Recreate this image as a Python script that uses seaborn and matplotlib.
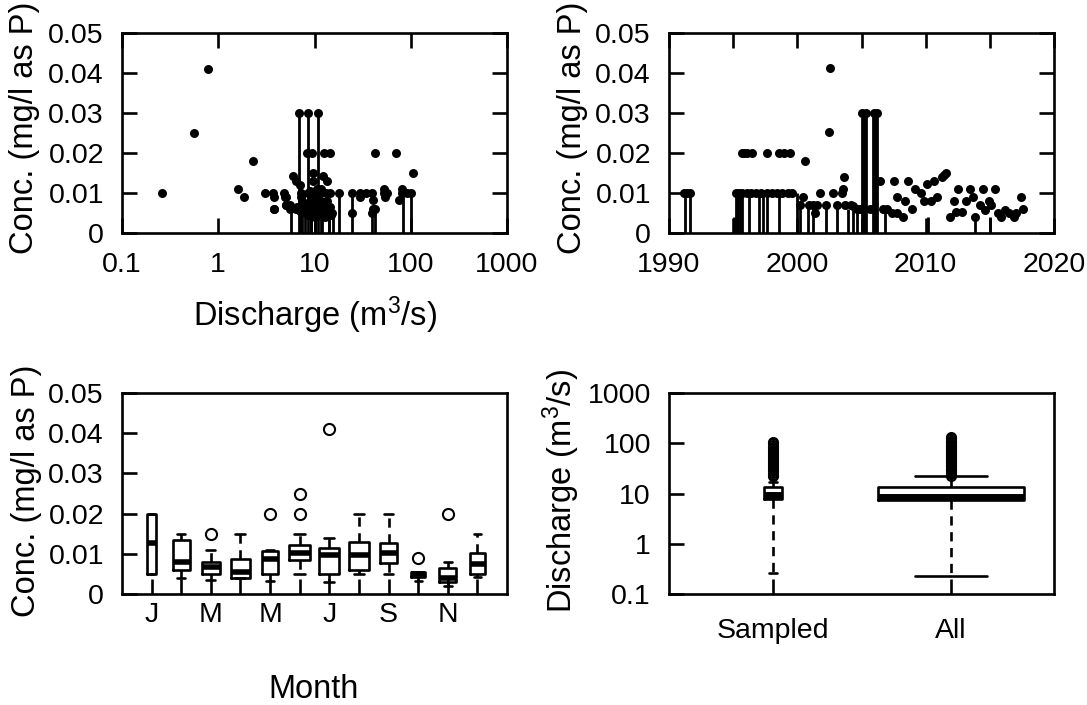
import numpy as np
import pandas as pd
import matplotlib
matplotlib.use("Agg")
import matplotlib.pyplot as plt
import seaborn as sns

# ---------------- concentration vs. discharge ----------------
q_dots = [0.26, 0.56, 0.79, 1.6, 1.83, 2.29, 3.07, 3.68, 3.78, 3.83, 4.87, 4.97, 5.05,
          5.6, 5.6, 6.05, 6.5, 7.1,
          6.97, 8.63, 10.9,
          8.35, 9.35, 12.6, 14.6, 42.4, 70.5,
          9.6, 106.6, 9.6, 12.4, 13.5,
          7.24, 8.49, 9.95, 11.5, 13.2, 14.6, 17.8, 24.3, 29.9, 34.2, 39.2, 52.9, 56.4, 82, 92.5, 100,
          52.9, 82, 5.0, 29.9, 54, 40.1, 75.7, 5.1, 3.8, 40.8, 43, 24.3, 39.2, 15.1,
          7.2, 7.5, 7.8, 8.0, 8.2, 8.5, 8.8, 9.0, 9.2, 9.4, 9.6, 9.8, 10.0, 10.2, 10.4, 10.6,
          10.8, 11.0, 11.3, 11.6, 12.0, 12.3, 12.7, 13.0, 13.5, 14.0, 14.5, 15.0, 7.0, 6.6,
          6.4, 11.8, 10.5, 9.0]
conc_q_dots = [0.010, 0.025, 0.041, 0.011, 0.009, 0.018, 0.010, 0.010, 0.009, 0.006, 0.010, 0.009, 0.007,
               0.007, 0.006, 0.0143, 0.0131, 0.012,
               0.030, 0.030, 0.030,
               0.020, 0.020, 0.020, 0.020, 0.020, 0.020,
               0.0151, 0.0151, 0.0131, 0.0143, 0.0131,
               0.010, 0.010, 0.010, 0.010, 0.010, 0.010, 0.010, 0.010, 0.010, 0.010, 0.010, 0.010, 0.010, 0.010, 0.010, 0.010,
               0.011, 0.011, 0.0091, 0.0091, 0.0091, 0.0083, 0.0083, 0.007, 0.006, 0.006, 0.006, 0.005, 0.005, 0.005,
               0.009, 0.008, 0.007, 0.006, 0.005, 0.0045, 0.007, 0.008, 0.006, 0.005, 0.009, 0.007, 0.004, 0.006, 0.008, 0.005,
               0.007, 0.0045, 0.006, 0.008, 0.005, 0.007, 0.006, 0.004, 0.008, 0.005, 0.0065, 0.0045, 0.0055, 0.0065,
               0.006, 0.011, 0.011, 0.0105]
# censored samples (below reporting limit): drawn from 0 up to the limit
q_cens = [5.7, 6.97, 7.3, 7.4, 8.0, 8.63, 9.2, 9.3, 10.0, 10.9, 11.8, 12.0, 14.2, 14.3, 15.4,
          17.8, 24.3, 40.0, 42.4, 83.5, 100]
conc_q_cens = [0.007, 0.030, 0.010, 0.010, 0.007, 0.030, 0.010, 0.006, 0.006, 0.030, 0.007, 0.006, 0.008, 0.004, 0.005,
               0.010, 0.010, 0.005, 0.005, 0.010, 0.010]

# ---------------- concentration vs. time ----------------
yr_dots = [1991.17, 1991.40, 1991.64,
           1995.20, 1995.45, 1995.70, 1996.10, 1996.40, 1996.80, 1997.20, 1997.60, 1998.00, 1998.40, 1998.80, 1999.25, 1999.60,
           1995.67, 1995.85, 1996.05, 1996.45, 1997.60, 1998.60, 1998.96, 1999.43,
           2000.20, 2000.45, 2000.60, 2000.90, 2001.25, 2001.40, 2001.55, 2001.75, 2002.25, 2002.50, 2002.55, 2002.75,
           2003.10, 2003.50, 2003.55, 2003.60, 2003.75, 2004.20, 2004.37, 2004.65, 2004.85, 2005.00,
           2005.05, 2005.35, 2005.95, 2006.20,
           2005.65, 2006.45, 2006.65, 2006.95, 2007.35, 2007.50, 2007.75, 2007.75, 2008.25, 2008.40, 2008.60, 2008.90,
           2009.20, 2009.60, 2009.90, 2010.10, 2010.40, 2010.65, 2010.85, 2011.30, 2011.45, 2011.60, 2011.90,
           2012.20, 2012.40, 2012.55, 2012.80, 2013.15, 2013.45, 2013.65, 2013.85, 2014.25, 2014.45, 2014.60,
           2014.95, 2015.10, 2015.40, 2015.60, 2015.85, 2016.20, 2016.50, 2016.85, 2017.00, 2017.40, 2017.60]
conc_yr_dots = [0.010, 0.010, 0.010,
                0.010, 0.010, 0.010, 0.010, 0.010, 0.010, 0.010, 0.010, 0.010, 0.010, 0.010, 0.010, 0.010,
                0.020, 0.020, 0.020, 0.020, 0.020, 0.020, 0.020, 0.020,
                0.007, 0.0091, 0.0181, 0.007, 0.007, 0.0051, 0.007, 0.0101, 0.007, 0.0252, 0.0412, 0.0101,
                0.007, 0.0101, 0.0109, 0.0141, 0.007, 0.007, 0.0068, 0.006, 0.006, 0.006,
                0.030, 0.030, 0.030, 0.030,
                0.006, 0.0131, 0.006, 0.006, 0.0051, 0.0131, 0.0091, 0.0051, 0.0039, 0.008, 0.0131, 0.006,
                0.0109, 0.0101, 0.008, 0.0123, 0.008, 0.0131, 0.0091, 0.0141, 0.0146, 0.0151, 0.0039,
                0.008, 0.0053, 0.011, 0.0053, 0.008, 0.011, 0.0091, 0.0039, 0.007, 0.0109, 0.0058,
                0.008, 0.007, 0.0109, 0.0051, 0.0039, 0.0058, 0.0051, 0.0039, 0.0051, 0.0091, 0.0059]
yr_cens = [1991.25, 1991.64, 1995.07, 1995.22, 1995.40, 1995.53, 1995.66, 1996.26, 1997.04, 1997.35, 1997.66,
           1998.60, 1999.95, 2000.20, 2000.86, 2001.25, 2002.20, 2003.10, 2003.98, 2004.37, 2004.63,
           2005.00, 2005.20, 2005.35, 2005.90, 2006.05, 2006.20, 2006.85, 2010.20, 2013.85, 2015.00]
conc_yr_cens = [0.010, 0.010, 0.004, 0.010, 0.010, 0.010, 0.010, 0.010, 0.010, 0.010, 0.010,
                0.010, 0.010, 0.007, 0.007, 0.007, 0.007, 0.007, 0.006, 0.006, 0.006,
                0.030, 0.030, 0.030, 0.030, 0.030, 0.030, 0.006, 0.004, 0.004, 0.004]

# ---------------- monthly box plots of concentration ----------------
months = list(range(1, 13))
month_labels = ["J", "", "M", "", "M", "", "J", "", "S", "", "N", ""]
m_med = [0.0128, 0.0080, 0.0068, 0.0055, 0.0087, 0.0103, 0.0097, 0.0097, 0.0102, 0.0050, 0.0040, 0.0075]
m_q1 = [0.0050, 0.0060, 0.0050, 0.0040, 0.0050, 0.0085, 0.0050, 0.0060, 0.0077, 0.0042, 0.0030, 0.0050]
m_q3 = [0.0200, 0.0135, 0.0080, 0.0088, 0.0107, 0.0122, 0.0115, 0.0130, 0.0127, 0.0055, 0.0065, 0.0102]
m_lo = [0.0050, 0.0040, 0.0035, 0.0040, 0.0033, 0.0050, 0.0030, 0.0050, 0.0050, 0.0033, 0.0020, 0.0043]
m_hi = [0.0200, 0.0150, 0.0110, 0.0150, 0.0110, 0.0150, 0.0140, 0.0200, 0.0200, 0.0055, 0.0080, 0.0150]
m_out = [[], [], [0.015], [], [0.020], [0.020, 0.025], [0.041], [], [], [0.009], [0.020], []]
m_n = [4, 14, 16, 20, 13, 23, 20, 22, 14, 10, 14, 11]   # samples per month (box width ~ sqrt(n))

# ---------------- discharge: sampled days vs. all days ----------------
q_groups = ["Sampled", "All"]
q_med = [9.5, 8.7]
q_q1 = [7.7, 7.3]
q_q3 = [13.6, 13.3]
q_lo = [0.26, 0.23]
q_hi = [16.8, 21.8]
q_out = [[21.8, 23.5, 25.5, 27.5, 29.5, 32, 34.5, 37, 40, 43, 46.5, 50, 54, 58, 63, 68, 73, 79, 85, 92, 100, 108],
         [22.5, 24, 25.5, 27, 29, 31, 33, 35, 37.5, 40, 42.5, 45, 48, 51, 54, 57.5, 61, 65, 69, 73, 78, 83,
          88, 94, 100, 106, 113, 120, 127, 135]]
q_n = [130, 8800]

# ---------------- figure ----------------
sns.set_style("ticks")
plt.rcParams["font.family"] = ["Liberation Sans", "DejaVu Sans"]
plt.rcParams["mathtext.fontset"] = "custom"
plt.rcParams["mathtext.rm"] = "Liberation Sans"
plt.rcParams["mathtext.it"] = "Liberation Sans:italic"
plt.rcParams["text.color"] = "black"
plt.rcParams["axes.labelcolor"] = "black"
plt.rcParams["xtick.color"] = "black"
plt.rcParams["ytick.color"] = "black"

W, H = 1087, 705
fig = plt.figure(figsize=(W / 100, H / 100), dpi=100)
fig.patch.set_facecolor("white")
FS_TICK = 20.5
FS_LAB = 23.5
LW = 1.9


def px_axes(left, top, right, bottom):
    return fig.add_axes([left / W, 1 - bottom / H, (right - left) / W, (bottom - top) / H])


def frame(ax, all_sides):
    ax.set_facecolor("white")
    for s in ax.spines.values():
        s.set_visible(True)
        s.set_linewidth(LW)
        s.set_color("black")
    ax.tick_params(direction="in", length=11, width=LW, colors="black", labelcolor="black",
                   labelsize=FS_TICK)
    ax.tick_params(axis="y", pad=13)
    ax.tick_params(axis="x", pad=14)
    if all_sides:
        ax.tick_params(top=True, right=True, labeltop=False, labelright=False)
    ax.minorticks_off()


conc_ticks = [0, 0.01, 0.02, 0.03, 0.04, 0.05]
conc_ticklabels = ["0", "0.01", "0.02", "0.03", "0.04", "0.05"]

# panel 1: concentration vs discharge
ax1 = px_axes(122, 33, 507, 233)
ax1.set_xscale("log")
ax1.vlines(q_cens, 0, conc_q_cens, colors="black", linewidth=2.0, zorder=2)
sns.scatterplot(x=q_dots, y=conc_q_dots, ax=ax1, color="black", s=42, linewidth=0, legend=False, zorder=3)
ax1.set_xlim(0.1, 1000)
ax1.set_ylim(0, 0.05)
ax1.set_xticks([0.1, 1, 10, 100, 1000])
ax1.set_xticklabels(["0.1", "1", "10", "100", "1000"])
ax1.set_yticks(conc_ticks)
ax1.set_yticklabels(conc_ticklabels)
frame(ax1, True)
ax1.set_xlabel("")
ax1.set_ylabel("")

# panel 2: concentration vs time
ax2 = px_axes(669, 33, 1054, 233)
ax2.vlines(yr_cens, 0, conc_yr_cens, colors="black", linewidth=2.0, zorder=2)
sns.scatterplot(x=yr_dots, y=conc_yr_dots, ax=ax2, color="black", s=42, linewidth=0, legend=False, zorder=3)
ax2.set_xlim(1990, 2020)
ax2.set_ylim(0, 0.05)
ax2.set_xticks([1990, 1995, 2000, 2005, 2010, 2015, 2020])
ax2.set_xticklabels(["1990", "", "2000", "", "2010", "", "2020"])
ax2.set_yticks(conc_ticks)
ax2.set_yticklabels(conc_ticklabels)
frame(ax2, True)
ax2.set_xlabel("")
ax2.set_ylabel("")

# panel 3: monthly box plots
ax3 = px_axes(122, 393, 507, 594)
m_widths = [0.15 * np.sqrt(n) for n in m_n]
m_stats = [dict(med=m_med[i], q1=m_q1[i], q3=m_q3[i], whislo=m_lo[i], whishi=m_hi[i],
                fliers=np.array(m_out[i])) for i in range(12)]
box_kw = dict(
    boxprops=dict(linewidth=LW, color="black"),
    medianprops=dict(linewidth=4, color="black", solid_capstyle="butt"),
    whiskerprops=dict(linewidth=LW, color="black", linestyle=(0, (3.5, 2.5))),
    capprops=dict(linewidth=LW, color="black"),
    flierprops=dict(marker="o", markerfacecolor="none", markeredgecolor="black",
                    markersize=8, markeredgewidth=1.5),
    manage_ticks=False,
)
ax3.bxp(m_stats, positions=months, widths=m_widths, capwidths=[w / 2 for w in m_widths], **box_kw)
ax3.set_xlim(0, 13)
ax3.set_ylim(0, 0.05)
ax3.set_xticks(months)
ax3.set_xticklabels(month_labels)
ax3.set_yticks(conc_ticks)
ax3.set_yticklabels(conc_ticklabels)
frame(ax3, False)
ax3.tick_params(axis="x", pad=6)

# panel 4: discharge distributions
ax4 = px_axes(669, 393, 1054, 594)
ax4.set_yscale("log")
q_widths = [0.0087 * np.sqrt(n) for n in q_n]
q_stats = [dict(med=q_med[i], q1=q_q1[i], q3=q_q3[i], whislo=q_lo[i], whishi=q_hi[i],
                fliers=np.array(q_out[i])) for i in range(2)]
box_kw4 = dict(box_kw)
box_kw4["medianprops"] = dict(linewidth=5, color="black", solid_capstyle="butt")
box_kw4["flierprops"] = dict(marker="o", markerfacecolor="none", markeredgecolor="black",
                             markersize=6.5, markeredgewidth=1.5)
ax4.bxp(q_stats, positions=[1, 2], widths=q_widths, capwidths=[w / 2 for w in q_widths], **box_kw4)
ax4.set_xlim(0.416, 2.579)
ax4.set_ylim(0.1, 1000)
ax4.set_xticks([1, 2])
ax4.set_xticklabels(q_groups)
ax4.set_yticks([0.1, 1, 10, 100, 1000])
ax4.set_yticklabels(["0.1", "1", "10", "100", "1000"])
frame(ax4, False)
ax4.tick_params(axis="x", pad=17)

# axis titles
fig.text(25 / W, 1 - 128 / H, "Conc. (mg/l as P)", rotation=90, ha="center", va="center",
         fontsize=FS_LAB, color="black")
fig.text(573 / W, 1 - 128 / H, "Conc. (mg/l as P)", rotation=90, ha="center", va="center",
         fontsize=FS_LAB, color="black")
fig.text(27 / W, 1 - 491 / H, "Conc. (mg/l as P)", rotation=90, ha="center", va="center",
         fontsize=FS_LAB, color="black")
fig.text(561 / W, 1 - 491 / H, r"Discharge (m$^3$/s)", rotation=90, ha="center", va="center",
         fontsize=FS_LAB, color="black")
fig.text(315 / W, 1 - 315 / H, r"Discharge (m$^3$/s)", ha="center", va="center",
         fontsize=FS_LAB, color="black")
fig.text(314 / W, 1 - 689 / H, "Month", ha="center", va="center", fontsize=FS_LAB, color="black")

fig.savefig("out.png", dpi=100, facecolor="white")
